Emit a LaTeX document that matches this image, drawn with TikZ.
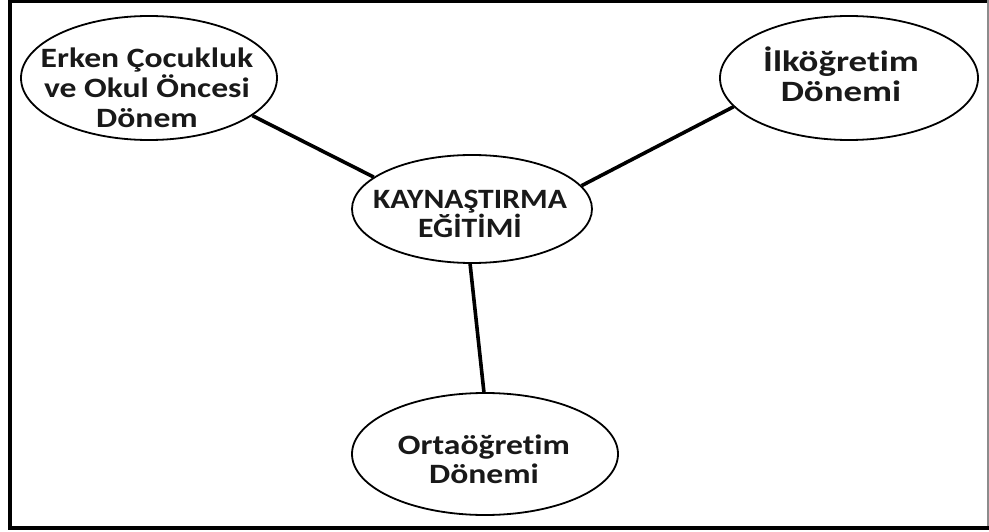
\documentclass[tikz,border=0pt]{standalone}
\usepackage{fontspec}
\setmainfont{Carlito}[RawFeature={-liga;-clig;-dlig}]
\newfontfamily\fwideA{Carlito}[FakeStretch=1.2,RawFeature={-liga;-clig;-dlig}]
\newfontfamily\fwideB{Carlito}[FakeStretch=1.13,RawFeature={-liga;-clig;-dlig}]
\newfontfamily\fwideC{Carlito}[FakeStretch=1.25,RawFeature={-liga;-clig;-dlig}]
\usetikzlibrary{shapes.geometric}
\begin{document}
\begin{tikzpicture}[x=1pt,y=-1pt,
  oval/.style={draw=black,line width=1.8pt,ellipse,inner sep=0pt,fill=white},
  lbl/.style={align=center,text=black!90,inner sep=0pt},
  link/.style={line width=3.6pt,black,line cap=butt}]
\useasboundingbox (0,0) rectangle (989,532);
% frame
\draw[line width=4pt] (10,0) -- (10,530);
\draw[line width=3.4pt] (8,1.7) -- (989,1.7);
\draw[line width=4.4pt] (8,528) -- (989,528);
\draw[line width=1.5pt,black!45] (988,0) -- (988,526);
% ellipses
\node[oval,minimum width=256pt,minimum height=124pt] (e1) at (149,78) {};
\node[oval,minimum width=258pt,minimum height=124pt] (e2) at (849,78) {};
\node[oval,minimum width=240pt,minimum height=108pt] (c) at (472,209) {};
\node[oval,minimum width=266pt,minimum height=122pt] (e4) at (485,454) {};
% labels
\node[lbl,font=\fwideA\fontsize{28}{30}\selectfont\bfseries] (t1) at (147,88) {Erken Çocukluk\\ve Okul Öncesi\\Dönem};
\node[lbl,font=\fwideC\fontsize{29.5}{30}\selectfont\bfseries] (t2) at (841,74) {İlköğretim\\Dönemi};
\node[lbl,font=\fwideB\fontsize{28}{29}\selectfont\bfseries] (t3) at (470,214) {KAYNAŞTIRMA\\EĞİTİMİ};
\node[lbl,font=\fwideA\fontsize{28}{29}\selectfont\bfseries] (t4) at (484,459) {Ortaöğretim\\Dönemi};
% connectors
\draw[link] (e1.-20) -- (c.162);
\draw[link] (c.12) -- (e2.194);
\draw[link] (c.-92) -- (e4.91);
\end{tikzpicture}
\end{document}
